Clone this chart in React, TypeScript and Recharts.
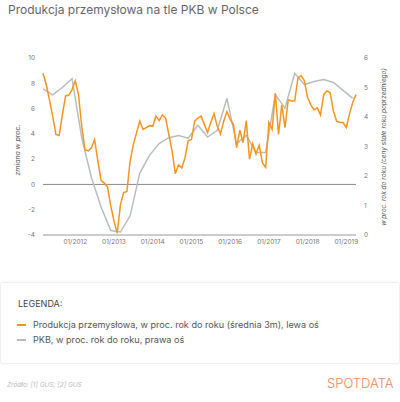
import { CartesianGrid, Line, LineChart, ReferenceLine, XAxis, YAxis } from 'recharts';

// monthly, 03/2011 .. 04/2019
const startYear = 2011;
const startMonth = 3;

const production = [
  8.8, 7.9, 6.7, 5.4, 3.95, 3.87, 5.5, 7.0, 7.07, 7.5, 8.2, 7.1,
  4.6, 2.75, 2.65, 2.9, 3.55, 1.85, 0.3, 0.1, -0.2, -1.7, -2.9, -3.85,
  -1.6, -0.65, -0.55, 1.85, 3.15, 4.1, 5.0, 4.35, 4.5, 4.65, 4.6, 5.4,
  5.05, 5.5, 5.25, 3.95, 2.65, 0.85, 1.55, 1.3, 2.1, 3.45, 3.55, 5.0,
  5.25, 5.4, 4.75, 4.1, 4.9, 5.6, 4.6, 4.0, 5.0, 5.75, 5.15, 4.75,
  2.9, 4.3, 3.3, 5.05, 2.0, 3.2, 2.4, 3.1, 1.7, 1.35, 4.9, 4.35,
  7.2, 3.95, 6.3, 4.5, 6.7, 6.6, 6.6, 8.4, 8.6, 8.2, 6.9, 6.3,
  5.9, 6.05, 5.5, 7.1, 7.4, 7.25, 5.8, 5.0, 4.9, 4.9, 4.5, 5.6,
  6.5, 7.1,
];

// quarterly, every 3rd month starting at 03/2011
const gdp = [
  4.95, 4.75, 5.0, 5.3, 3.3, 1.95, 0.95, 0.15, 0.1, 0.65, 2.1, 2.7,
  3.1, 3.3, 3.37, 3.28, 3.72, 3.32, 3.55, 4.63, 3.09, 3.38, 2.8, 2.8,
  4.76, 4.3, 5.48, 5.1, 5.2, 5.27, 5.17, 4.9, 4.63,
];

const leftTicks = [-4, -2, 0, 2, 4, 6, 8, 10];
const rightTicks = [0, 1, 2, 3, 4, 5, 6];

const months = production.map((_, i) => {
  const m = ((startMonth - 1 + i) % 12) + 1;
  const y = startYear + Math.floor((startMonth - 1 + i) / 12);
  return `${String(m).padStart(2, '0')}/${y}`;
});
const yearTicks = months.map((m, i) => (m.startsWith('01/') ? i : -1)).filter((i) => i >= 0);

const data = production.map((v, i) => ({
  t: i,
  prod: v,
  gdp: i % 3 === 0 ? gdp[i / 3] ?? null : null,
}));

const ORANGE = '#f7941d';
const GREY = '#b9bdc1';
const tick = { fontSize: 6.5, fill: '#777' };

export default function App() {
  return (
    <div
      style={{
        position: 'fixed',
        left: 0,
        top: 0,
        width: 400,
        height: 402,
        background: '#fff',
        overflow: 'hidden',
        fontFamily: 'Inter, "Noto Sans", sans-serif',
      }}
    >
      <div style={{ position: 'absolute', left: 8, top: 4, fontSize: 12, lineHeight: '12px', color: '#666' }}>
        Produkcja przemysłowa na tle PKB w Polsce
      </div>

      <div style={{ position: 'absolute', left: 0, top: 0 }}>
        <LineChart width={400} height={260} data={data} margin={{ top: 58, right: 8, bottom: 5, left: 8 }}>
          <CartesianGrid vertical={false} horizontal={false} />
          <XAxis
            dataKey="t"
            type="number"
            domain={[0, production.length - 1]}
            ticks={yearTicks}
            tickFormatter={(t: number) => months[t]}
            height={20}
            tickLine={false}
            tickSize={0}
            tickMargin={4}
            axisLine={{ stroke: '#999' }}
            tick={tick}
          />
          <YAxis
            yAxisId="left"
            domain={[-4, 10]}
            ticks={leftTicks}
            width={35}
            axisLine={false}
            tickLine={false}
            tick={tick}
          />
          <YAxis
            yAxisId="right"
            orientation="right"
            domain={[0, 6]}
            ticks={rightTicks}
            width={36}
            axisLine={false}
            tickLine={false}
            tick={tick}
          />
          <ReferenceLine yAxisId="left" y={0} stroke="#8c8c8c" strokeWidth={1} />
          <Line
            yAxisId="right"
            dataKey="gdp"
            stroke={GREY}
            strokeWidth={1.5}
            dot={false}
            connectNulls
            isAnimationActive={false}
          />
          <Line
            yAxisId="left"
            dataKey="prod"
            stroke={ORANGE}
            strokeWidth={1.5}
            dot={false}
            isAnimationActive={false}
          />
        </LineChart>
      </div>

      <div
        style={{
          position: 'absolute',
          left: 17,
          top: 150,
          transform: 'translate(-50%, -50%) rotate(-90deg)',
          whiteSpace: 'nowrap',
          fontSize: 7,
          fontStyle: 'italic',
          color: '#555',
        }}
      >
        zmiana w proc.
      </div>
      <div
        style={{
          position: 'absolute',
          left: 384,
          top: 147,
          transform: 'translate(-50%, -50%) rotate(-90deg)',
          whiteSpace: 'nowrap',
          fontSize: 6.5,
          fontStyle: 'italic',
          color: '#555',
        }}
      >
        w proc. rok do roku (ceny stałe roku poprzedniego)
      </div>

      <div
        style={{
          position: 'absolute',
          left: 0,
          top: 282,
          width: 398,
          height: 80,
          border: '1px solid #f0f0f0',
          borderRadius: 2,
          boxShadow: '0 0 3px rgba(0,0,0,0.06)',
          color: '#555',
        }}
      >
        <div style={{ position: 'absolute', left: 17, top: 16, fontSize: 9, lineHeight: '10px', color: '#444' }}>
          LEGENDA:
        </div>
        {[
          { color: ORANGE, label: 'Produkcja przemysłowa, w proc. rok do roku (średnia 3m), lewa oś', y: 42 },
          { color: GREY, label: 'PKB, w proc. rok do roku, prawa oś', y: 57 },
        ].map((it) => (
          <div key={it.label}>
            <div
              style={{ position: 'absolute', left: 16, top: it.y - 1, width: 9, height: 2, background: it.color }}
            />
            <div
              style={{
                position: 'absolute',
                left: 32,
                top: it.y - 6,
                fontSize: 9.1,
                lineHeight: '12px',
                whiteSpace: 'nowrap',
              }}
            >
              {it.label}
            </div>
          </div>
        ))}
      </div>

      <div
        style={{
          position: 'absolute',
          left: 7,
          top: 381,
          fontSize: 6.5,
          lineHeight: '8px',
          fontStyle: 'italic',
          color: '#bbb',
        }}
      >
        Źródło: [1] GUS; [2] GUS
      </div>
      <div
        style={{
          position: 'absolute',
          left: 327,
          top: 375,
          fontSize: 13,
          lineHeight: '16px',
          color: '#f0865a',
          fontWeight: 300,
        }}
      >
        SPOTDATA
      </div>
    </div>
  );
}
